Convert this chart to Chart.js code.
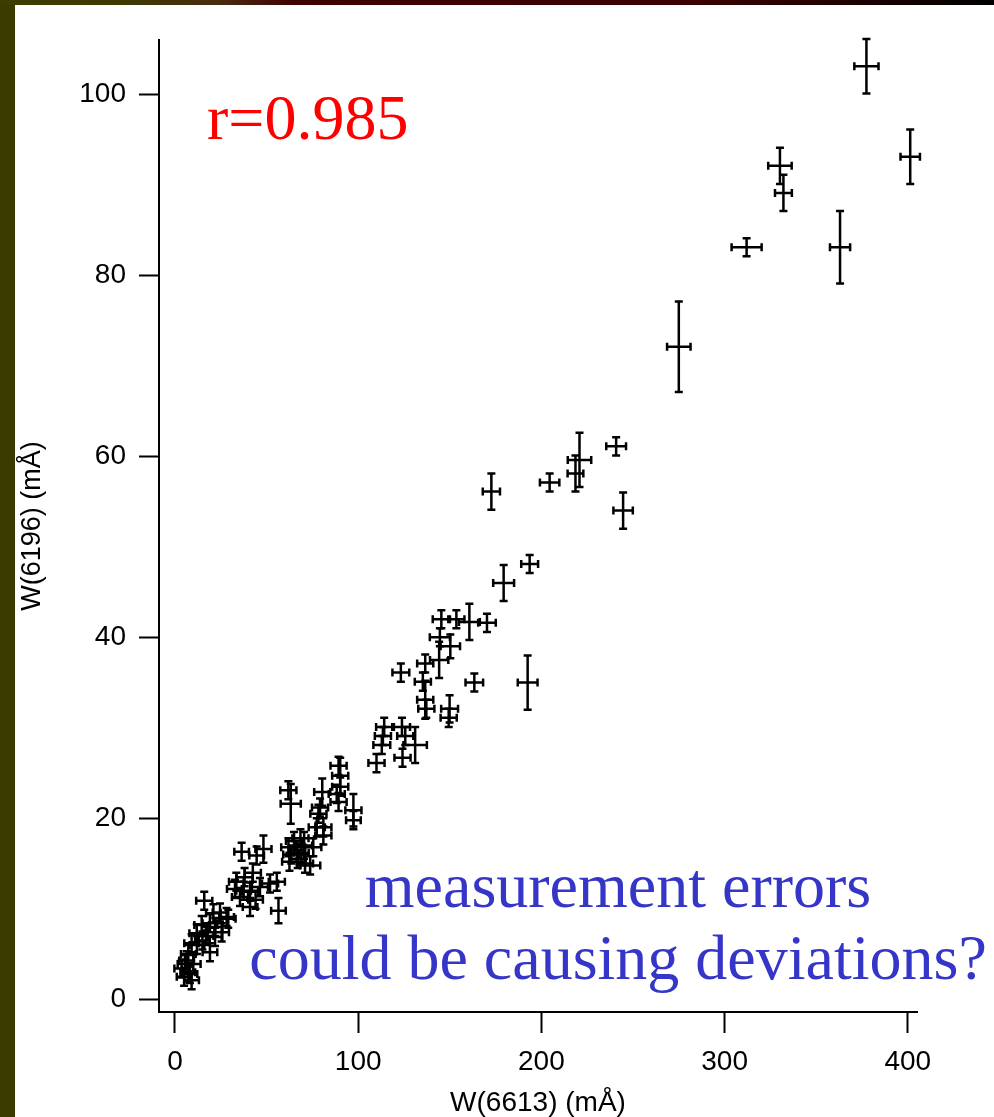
<!DOCTYPE html>
<html><head><meta charset="utf-8">
<script src="https://cdn.jsdelivr.net/npm/chart.js@4.4.0/dist/chart.umd.min.js"></script>
<style>
html,body{margin:0;padding:0;background:#fff;width:994px;height:1117px;overflow:hidden;}
#wrap{position:relative;width:994px;height:1117px;}
#leftStrip{position:absolute;left:0;top:0;width:15px;height:1117px;background:#3b3b00;}
#topStrip{position:absolute;left:0;top:0;width:994px;height:5px;background:linear-gradient(to right,#3d3d00 0%,#3d3a00 12%,#4a2a10 22%,#3e0000 30%,#3a0000 70%,#200000 85%,#000 100%);}
canvas{position:absolute;left:0;top:0;}
.ann{position:absolute;font-family:"Liberation Serif","Times New Roman",serif;font-size:64px;line-height:64px;white-space:nowrap;}
</style></head>
<body>
<div id="wrap">
<div id="leftStrip"></div>
<div id="topStrip"></div>
<canvas id="c" width="994" height="1117"></canvas>
<div class="ann" style="left:207px;top:86px;color:#ff0000;">r=0.985</div>
<div class="ann" style="left:618px;top:854px;transform:translateX(-50%);color:#3535c8;">measurement errors</div>
<div class="ann" style="left:618px;top:926px;transform:translateX(-50%);color:#3535c8;">could be causing deviations?</div>
</div>
<script>
const xTicks = [0, 100, 200, 300, 400];
const yTicks = [0, 20, 40, 60, 80, 100];

// W(6613) (mÅ)
const w6613 = [377.4,330.2,332.1,401.3,312.0,363.0,275.0,240.8,220.8,218.6,204.5,172.7,244.6,193.6,179.4,192.5,163.4,170.3,160.7,153.6,
  145.4,144.6,150.3,144.2,136.6,135.3,136.6,137.2,149.9,149.4,123.3,114.2,123.9,113.5,125.7,112.9,131.1,110.0,124.2,
  89.3,90.2,90.2,89.3,80.4,88.3,79.2,78.3,77.4,81.0,81.0,97.4,97.4,61.9,63.2,
  62.0,63.5,62.5,65.0,66.5,67.0,68.5,69.0,70.5,71.0,73.8,75.5,
  36.4,44.6,48.3,16.0,56.5,51.9,55.6,41.0,28.2,35.5,46.4,32.8,41.0,38.0,42.5,33.5,37.5,44.0,
  24.6,29.1,21.0,19.1,14.6,25.5,21.9,11.9,19.1,9.1,7.3,5.5,3.7,8.2,9.1,6.4,10.0,12.0,15.0,17.0,22.0,7.0,5.0];
// W(6196) (mÅ)
const w6196 = [103.1,92.1,89.1,93.1,83.1,83.1,72.1,61.1,59.6,58.1,57.1,56.1,54.0,48.1,46.0,35.0,35.0,41.6,41.7,42.0,
  42.0,40.0,39.0,37.5,37.1,35.1,33.1,32.1,32.1,31.1,36.1,30.1,30.1,29.1,29.1,28.1,28.1,26.1,26.7,
  25.8,24.7,23.5,21.8,22.9,22.7,21.2,20.5,19.0,19.0,18.1,20.9,19.8,23.1,21.6,
  16.8,16.0,15.2,17.5,16.5,15.5,17.8,16.2,17.0,15.0,14.8,16.8,
  16.3,15.9,16.6,10.9,9.8,12.8,13.0,10.2,9.1,11.3,12.4,12.2,11.9,13.5,14.0,13.0,12.0,11.0,
  9.6,8.9,9.5,8.4,8.2,7.4,6.9,7.3,5.2,6.2,5.0,3.9,3.4,2.8,2.1,4.3,3.9,6.0,6.5,7.0,8.0,3.0,2.5];
// error on W(6613)
const err6613 = [6.6,6.4,4.6,5.3,8.2,5.5,6.4,5.4,6.4,4.3,5.3,4.7,5.3,4.6,5.7,5.4,4.8,4.8,5.7,4.4,
  4.7,5.5,5.3,5.0,4.4,4.4,4.4,4.4,4.6,4.4,4.6,4.4,4.4,4.4,4.4,4.6,6.4,4.4,4.4,
  4.4,4.4,4.4,4.4,4.4,4.4,4.4,4.4,4.4,4.4,4.4,4.4,4.0,4.4,5.5,
  4.0,4.4,4.0,4.4,4.4,4.4,4.4,4.0,4.4,4.4,5.5,4.4,
  4.0,4.0,4.4,4.4,4.0,4.4,4.4,4.0,4.0,4.4,4.4,4.4,4.4,4.4,4.4,4.0,4.0,4.0,
  4.0,4.0,4.0,4.0,4.0,4.0,4.0,4.0,4.0,4.0,4.0,4.0,4.0,4.0,4.0,4.0,4.0,4.0,4.0,4.0,4.0,4.0,4.0];
// error on W(6196)
const err6196 = [3.0,2.0,2.0,3.0,1.0,4.0,5.0,1.0,3.0,2.0,1.0,2.0,2.0,1.0,2.0,3.0,1.0,1.0,2.0,1.0,
  1.0,1.0,1.3,2.0,1.0,1.0,2.1,1.0,1.5,1.0,1.0,1.0,1.0,1.0,1.0,1.0,2.0,1.0,1.0,
  1.0,2.0,1.0,1.0,1.5,1.0,1.0,1.0,1.0,1.0,1.0,1.8,1.0,1.0,2.2,
  1.0,1.0,1.0,1.0,1.0,1.0,1.0,1.0,1.5,1.0,1.0,1.0,
  1.0,1.0,1.5,1.0,1.4,1.0,1.0,1.0,1.0,1.0,1.0,1.0,1.0,1.0,1.0,1.0,1.0,1.0,
  1.0,1.0,1.0,1.0,1.0,1.0,1.0,1.0,1.0,1.0,1.0,1.0,1.0,1.0,1.0,1.0,1.0,1.0,1.0,1.0,1.0,1.0,1.0];

const errorBars = {
  id: 'errorBars',
  afterDatasetsDraw(chart) {
    const ctx = chart.ctx, xs = chart.scales.x, ys = chart.scales.y;
    const cap = 4;
    ctx.save();
    ctx.strokeStyle = '#000';
    ctx.lineWidth = 2.5;
    ctx.lineCap = 'butt';
    for (let i = 0; i < w6613.length; i++) {
      const cx = xs.getPixelForValue(w6613[i]);
      const cy = ys.getPixelForValue(w6196[i]);
      const x0 = xs.getPixelForValue(w6613[i] - err6613[i]);
      const x1 = xs.getPixelForValue(w6613[i] + err6613[i]);
      const y0 = ys.getPixelForValue(w6196[i] - err6196[i]);
      const y1 = ys.getPixelForValue(w6196[i] + err6196[i]);
      ctx.beginPath();
      ctx.moveTo(x0, cy); ctx.lineTo(x1, cy);
      ctx.moveTo(cx, y0); ctx.lineTo(cx, y1);
      ctx.moveTo(x0, cy - cap); ctx.lineTo(x0, cy + cap);
      ctx.moveTo(x1, cy - cap); ctx.lineTo(x1, cy + cap);
      ctx.moveTo(cx - cap, y0); ctx.lineTo(cx + cap, y0);
      ctx.moveTo(cx - cap, y1); ctx.lineTo(cx + cap, y1);
      ctx.stroke();
    }
    ctx.restore();
  }
};

const sans = '"Liberation Sans", Arial, Helvetica, sans-serif';

new Chart(document.getElementById('c'), {
  type: 'scatter',
  data: {
    datasets: [{
      label: 'W(6196) vs W(6613)',
      data: w6613.map((v, i) => ({ x: v, y: w6196[i] })),
      pointRadius: 0,
      pointHoverRadius: 0,
      showLine: false
    }]
  },
  options: {
    responsive: false,
    animation: false,
    devicePixelRatio: 1,
    layout: { padding: { left: 0, top: 40, right: 77, bottom: 0 } },
    plugins: { legend: { display: false }, tooltip: { enabled: false } },
    scales: {
      x: {
        type: 'linear', min: -8.7, max: 405,
        afterBuildTicks(s) { s.ticks = xTicks.map(v => ({ value: v })); },
        afterFit(s) { s.height = 105; },
        grid: { display: true, drawOnChartArea: false, drawTicks: true, tickLength: 21, tickWidth: 2, tickColor: '#000' },
        border: { display: true, color: '#000', width: 2 },
        ticks: { color: '#000', font: { family: sans, size: 28 }, padding: 12, maxRotation: 0, autoSkip: false },
        title: { display: true, text: 'W(6613) (mÅ)', color: '#000', font: { family: sans, size: 28, lineHeight: 1 }, padding: { top: 0, bottom: 0 } }
      },
      y: {
        type: 'linear', min: -1.4, max: 106,
        afterBuildTicks(s) { s.ticks = yTicks.map(v => ({ value: v })); },
        afterFit(s) { s.width = 159; },
        grid: { display: true, drawOnChartArea: false, drawTicks: true, tickLength: 20, tickWidth: 2, tickColor: '#000' },
        border: { display: true, color: '#000', width: 2 },
        ticks: { color: '#000', font: { family: sans, size: 28 }, padding: 13, autoSkip: false },
        title: { display: true, text: 'W(6196) (mÅ)', color: '#000', font: { family: sans, size: 27, lineHeight: 1 }, padding: { top: 19, bottom: 0 } }
      }
    }
  },
  plugins: [errorBars]
});
</script>
</body></html>
